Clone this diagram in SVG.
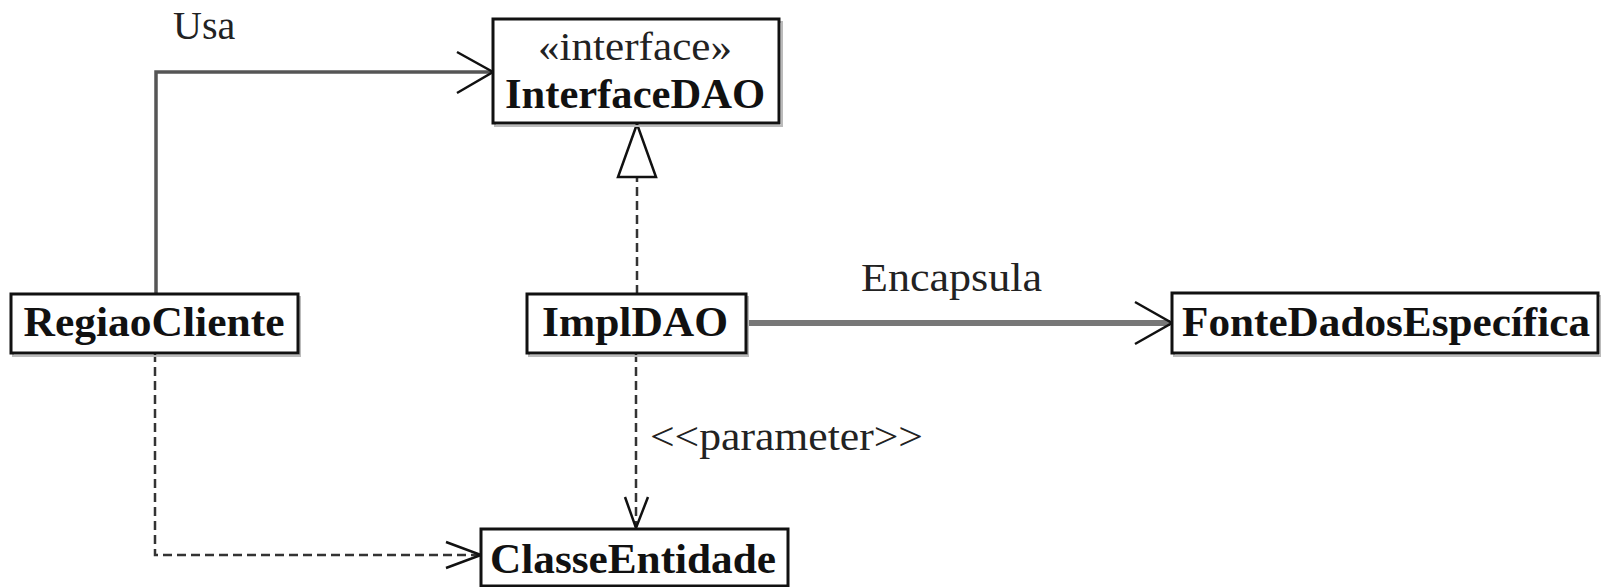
<svg xmlns="http://www.w3.org/2000/svg" width="1601" height="587" viewBox="0 0 1601 587">
<style>
.box{fill:#fff;stroke:#111;stroke-width:3}
.shadow{fill:none;stroke:#bbb;stroke-width:2}
.name{font-family:"Liberation Serif",serif;font-weight:bold;font-size:42px;fill:#111;text-anchor:middle}
.lbl{font-family:"Liberation Serif",serif;font-size:40px;fill:#222}
.dash{fill:none;stroke:#333;stroke-width:2.5;stroke-dasharray:9 5}
.head{fill:none;stroke:#111;stroke-width:2.5}
</style>
<rect width="1601" height="587" fill="#fff"/>
<g id="connectors">
  <g id="usa">
    <polyline points="156,294 156,72 493,72" fill="none" stroke="#555" stroke-width="3.5"/>
    <polyline class="head" points="457,52 493,72 457,93"/>
    <text class="lbl" x="173" y="39">Usa</text>
  </g>
  <g id="realization">
    <line class="dash" x1="637" y1="294" x2="637" y2="177"/>
    <polygon points="637,124 618,177 656,177" fill="#fff" stroke="#111" stroke-width="2.5"/>
  </g>
  <g id="encapsula">
    <line x1="746" y1="323" x2="1170" y2="323" stroke="#777" stroke-width="6"/>
    <polyline class="head" points="1135,302 1172,323 1135,344"/>
    <text class="lbl" x="861" y="291" textLength="181" lengthAdjust="spacingAndGlyphs">Encapsula</text>
  </g>
  <g id="parameter">
    <line class="dash" x1="636" y1="353" x2="636" y2="527"/>
    <polyline class="head" points="625,497 636,528 648,497"/>
    <text class="lbl" x="650" y="450" textLength="273" lengthAdjust="spacingAndGlyphs">&lt;&lt;parameter&gt;&gt;</text>
  </g>
  <g id="regiao-entidade">
    <polyline class="dash" points="155,353 155,555 479,555"/>
    <polyline class="head" points="446,542 481,555 446,568"/>
  </g>
</g>
<g id="InterfaceDAO">
  <rect class="shadow" x="495" y="22" width="287" height="104"/>
  <rect class="box" x="493" y="19" width="286" height="104"/>
  <text class="lbl" x="635" y="60" text-anchor="middle" textLength="194" lengthAdjust="spacingAndGlyphs">«interface»</text>
  <text class="name" x="635" y="108" textLength="260" lengthAdjust="spacingAndGlyphs">InterfaceDAO</text>
</g>
<g id="RegiaoCliente">
  <rect class="shadow" x="13" y="297" width="287" height="59"/>
  <rect class="box" x="11" y="294" width="287" height="59"/>
  <text class="name" x="154" y="336" textLength="261" lengthAdjust="spacingAndGlyphs">RegiaoCliente</text>
</g>
<g id="ImplDAO">
  <rect class="shadow" x="529" y="297" width="219" height="59"/>
  <rect class="box" x="527" y="294" width="219" height="59"/>
  <text class="name" x="635" y="336" textLength="186" lengthAdjust="spacingAndGlyphs">ImplDAO</text>
</g>
<g id="FonteDadosEspecifica">
  <rect class="shadow" x="1174" y="296" width="427" height="60"/>
  <rect class="box" x="1172" y="293" width="426" height="60"/>
  <text class="name" x="1386" y="336" textLength="408" lengthAdjust="spacingAndGlyphs">FonteDadosEspecífica</text>
</g>
<g id="ClasseEntidade">
  <rect class="box" x="481" y="529" width="307" height="57"/>
  <text class="name" x="633" y="573" textLength="286" lengthAdjust="spacingAndGlyphs">ClasseEntidade</text>
</g>
</svg>
